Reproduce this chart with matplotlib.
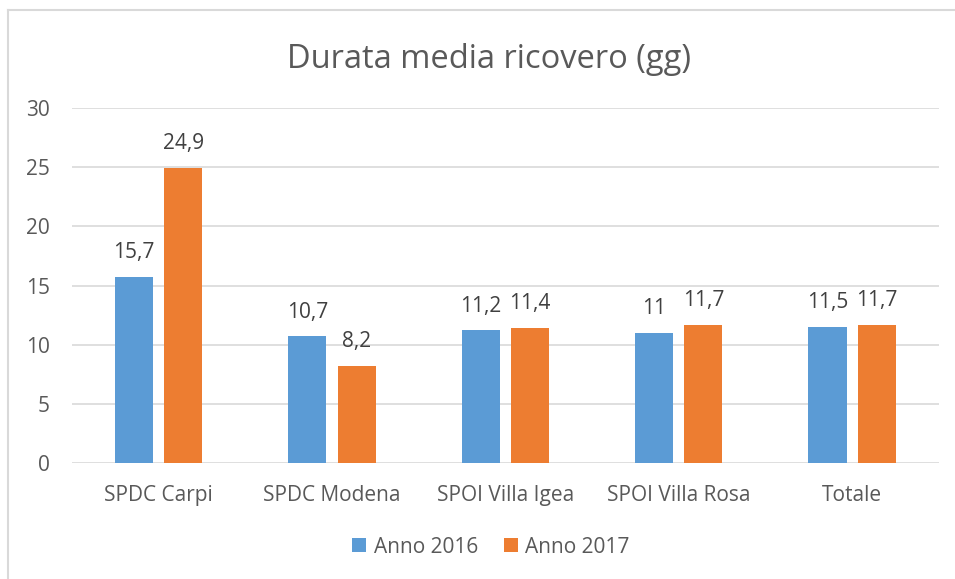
import numpy as np
import matplotlib.pyplot as plt
from matplotlib.lines import Line2D

categories = ['SPDC Carpi', 'SPDC Modena', 'SPOI Villa Igea', 'SPOI Villa Rosa', 'Totale']
anno_2016 = [15.7, 10.7, 11.2, 11.0, 11.5]
anno_2017 = [24.9, 8.2, 11.4, 11.7, 11.7]
series_names = ['Anno 2016', 'Anno 2017']

blue = '#5B9BD5'
orange = '#ED7D31'
txt = '#595959'

plt.rcParams['font.family'] = ['Open Sans', 'DejaVu Sans']

fig = plt.figure(figsize=(9.55, 5.79), dpi=100)
ax = fig.add_axes([0.0754, 0.2003, 0.9076, 0.6132])

x = np.arange(len(categories))
w = 0.22
off = 0.142
b1 = ax.bar(x - off, anno_2016, w, color=blue, label=series_names[0], zorder=3)
b2 = ax.bar(x + off, anno_2017, w, color=orange, label=series_names[1], zorder=3)

def fmt(v):
    s = ('%.1f' % v).replace('.', ',')
    return s[:-2] if s.endswith(',0') else s

for bars, vals in ((b1, anno_2016), (b2, anno_2017)):
    for r, v in zip(bars, vals):
        ax.annotate(fmt(v), (r.get_x() + r.get_width() / 2, v), xytext=(0, 10),
                    textcoords='offset points', ha='center', va='bottom',
                    fontsize=15, color='#404040')

ax.set_xlim(-0.5, len(categories) - 0.5)
ax.set_ylim(0, 30)
ax.set_yticks(range(0, 31, 5))
ax.set_xticks(x)
ax.set_xticklabels(categories)
ax.tick_params(axis='both', length=0, labelsize=15, labelcolor=txt)
ax.tick_params(axis='y', pad=16)
ax.tick_params(axis='x', pad=16)
ax.grid(axis='y', color='#D9D9D9', linewidth=1.2, zorder=0)
for s in ax.spines.values():
    s.set_visible(False)

fig.text(0.512, 0.897, 'Durata media ricovero (gg)', ha='center', va='center',
         fontsize=23.5, color=txt)

fig.legend(handles=[b1, b2], loc='center', bbox_to_anchor=(0.514, 0.055), ncol=2,
           frameon=False, fontsize=15, labelcolor=txt, handlelength=0.67,
           handleheight=0.65, handletextpad=0.34, columnspacing=1.25)

# chart border
fig.add_artist(Line2D([8 / 955, 1], [1 - 9.5 / 579, 1 - 9.5 / 579], color='#D9D9D9', linewidth=1.5))
fig.add_artist(Line2D([8 / 955, 8 / 955], [1 - 9.5 / 579, 0], color='#D9D9D9', linewidth=1.5))

fig.savefig('out.png', dpi=100)
